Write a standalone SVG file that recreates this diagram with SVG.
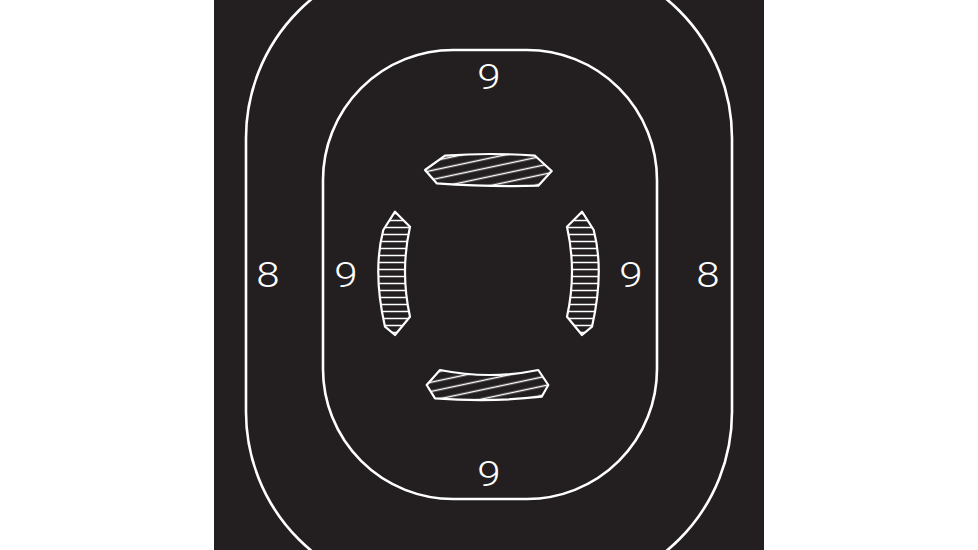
<svg xmlns="http://www.w3.org/2000/svg" width="978" height="550" viewBox="0 0 978 550">
<defs>
<style>
.ring{fill:none;stroke:#ffffff;stroke-width:2.6}
.shape{stroke:#ffffff;stroke-width:2.2;stroke-linejoin:round}
.diag{fill:url(#hatchD)}
.horiz{fill:url(#hatchH)}
.num{font-family:Roboto,"Liberation Sans",sans-serif;font-weight:300;font-size:35px;fill:#ffffff;text-anchor:middle}
</style>
<pattern id="hatchD" patternUnits="userSpaceOnUse" width="200" height="9" patternTransform="rotate(-12)">
<line x1="0" y1="4.5" x2="200" y2="4.5" stroke="#ffffff" stroke-width="1.4"/>
</pattern>
<pattern id="hatchH" patternUnits="userSpaceOnUse" width="100" height="7">
<line x1="0" y1="3.5" x2="100" y2="3.5" stroke="#ffffff" stroke-width="1.4"/>
</pattern>
</defs>
<rect x="0" y="0" width="978" height="550" fill="#ffffff"/>
<rect id="board" x="214" y="0" width="550" height="550" fill="#231f20"/>
<g id="outer-ring"><rect class="ring" x="246" y="-42" width="486" height="634" rx="180" ry="180"/></g>
<g id="inner-ring"><rect class="ring" x="323" y="50" width="334" height="449" rx="130" ry="130"/></g>
<g id="top-zone">
<path class="shape diag" d="M445,155.7 Q490,152.3 535,155.7 L551.7,171 L538.3,185.7 Q490,187 436.7,183.3 L425,170 Z"/>
</g>
<g id="bottom-zone">
<path class="shape diag" d="M440,370 Q490,380 538.3,370 L548.3,385 L541.7,396.7 Q490,402.5 435,398.3 L426.7,385 Z"/>
</g>
<g id="left-zone">
<path class="shape horiz" d="M395,211.7 L410,226.7 Q400,271.7 410,316.7 L395,335 L385,326.7 Q372.4,271.7 383.3,230 Z"/>
</g>
<g id="right-zone">
<path class="shape horiz" d="M582,211.7 L567,226.7 Q577,271.7 567,316.7 L582,335 L592,326.7 Q604.6,271.7 593.7,230 Z"/>
</g>
<g id="labels">
<text class="num" transform="translate(489,89) scale(1.2,1)">9</text>
<text class="num" transform="translate(489,486) scale(1.2,1)">9</text>
<text class="num" transform="translate(346,287) scale(1.2,1)">9</text>
<text class="num" transform="translate(631,287) scale(1.2,1)">9</text>
<text class="num" transform="translate(268,287) scale(1.2,1)">8</text>
<text class="num" transform="translate(708,287) scale(1.2,1)">8</text>
</g>
</svg>
